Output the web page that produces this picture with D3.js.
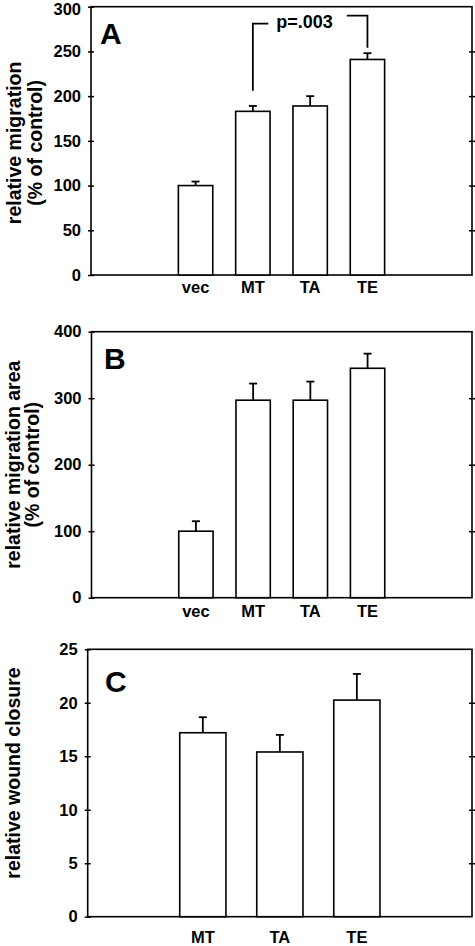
<!DOCTYPE html>
<html><head><meta charset="utf-8">
<script src="https://cdn.jsdelivr.net/npm/d3@7"></script>
<style>html,body{margin:0;padding:0;background:#fff;}svg{display:block;font-family:"Liberation Sans",Arial,sans-serif;font-weight:bold;}</style>
</head><body><svg id="c" width="475" height="946"></svg>
<script>
// ---- data ----
const catsAB = ["vec", "MT", "TA", "TE"];
const migrationA = [100, 183, 189, 241];
const migrationErrA = [4.5, 6, 11, 7];
const ticksA = [0, 50, 100, 150, 200, 250, 300];
const areaB = [100, 297, 297, 345];
const areaErrB = [15, 25, 28, 22];
const ticksB = [0, 100, 200, 300, 400];
const catsC = ["MT", "TA", "TE"];
const woundC = [17.2, 15.4, 20.25];
const woundErrC = [1.45, 1.6, 2.45];
const ticksC = [0, 5, 10, 15, 20, 25];
const pText = "p=.003";
// bracket: left arm at MT (bottom, top), right arm at TE (top, bottom) in data units
const bracketLeft = { cat: "MT", y0: 206, y1: 281 };
const bracketRight = { cat: "TE", y0: 290, y1: 254 };
const bracketTextY = 276.5;

const panels = [
  { letter: "A", cats: catsAB, vals: migrationA, errs: migrationErrA, ticks: ticksA, max: 300,
    label: ["relative migration", "(% of control)"], labelX: [20.5, 42], labelDy: 2,
    left: 91, right: 472, top: 6.7, bottom: 275, pad: 1.825, catDy: 17.7, letterX: 100, letterY: 43.5, bracket: true },
  { letter: "B", cats: catsAB, vals: areaB, errs: areaErrB, ticks: ticksB, max: 400,
    label: ["relative migration area", "(% of control)"], labelX: [19.5, 38.5], labelDy: 0,
    left: 91.5, right: 472, top: 331.7, bottom: 597.7, pad: 1.825, catDy: 19, letterX: 104, letterY: 368.5 },
  { letter: "C", cats: catsC, vals: woundC, errs: woundErrC, ticks: ticksC, max: 25,
    label: ["relative wound closure"], labelX: [19.5], labelDy: -10,
    left: 87.7, right: 472, top: 649.3, bottom: 916.7, pad: 1.495, catDy: 26.3, letterX: 105, letterY: 691.5 }
];

const svg = d3.select("#c");
panels.forEach(p => {
  const g = svg.append("g");
  const x = d3.scalePoint().domain(p.cats).range([p.left, p.right]).padding(p.pad);
  const y = d3.scaleLinear().domain([0, p.max]).range([p.bottom, p.top]);
  const bw = x.step() * 0.6;

  // frame
  g.append("rect").attr("x", p.left).attr("y", p.top)
    .attr("width", p.right - p.left).attr("height", p.bottom - p.top)
    .attr("fill", "none").attr("stroke", "#000").attr("stroke-width", 1.6);

  // left axis
  const ax = g.append("g").attr("transform", `translate(${p.left},0)`)
    .call(d3.axisLeft(y).tickValues(p.ticks).tickSize(3).tickPadding(6));
  ax.select(".domain").remove();
  ax.selectAll(".tick line").attr("x1", 3).attr("stroke", "#000").attr("stroke-width", 1.5);
  ax.selectAll(".tick text").attr("font-size", 16.5).attr("font-family", "Liberation Sans, Arial, sans-serif")
    .attr("font-weight", "bold").attr("fill", "#000").attr("dx", -1)
    .attr("dy", d => y(d) < 12 ? "0.45em" : "0.32em");
  // right axis ticks
  const ar = g.append("g").attr("transform", `translate(${p.right},0)`)
    .call(d3.axisRight(y).tickValues(p.ticks.filter(t => t > 0 && t < p.max)).tickSize(3).tickFormat(""));
  ar.select(".domain").remove();
  ar.selectAll(".tick line").attr("x1", -3).attr("stroke", "#000").attr("stroke-width", 1.5);

  // bars
  g.selectAll(".bar").data(p.cats).enter().append("rect")
    .attr("x", d => x(d) - bw / 2).attr("width", bw)
    .attr("y", (d, i) => y(p.vals[i])).attr("height", (d, i) => p.bottom - y(p.vals[i]))
    .attr("fill", "#fff").attr("stroke", "#000").attr("stroke-width", 1.6);
  // error bars (upper only)
  g.selectAll(".eb").data(p.cats).enter().append("line")
    .attr("x1", d => x(d)).attr("x2", d => x(d))
    .attr("y1", (d, i) => y(p.vals[i])).attr("y2", (d, i) => y(p.vals[i] + p.errs[i]))
    .attr("stroke", "#000").attr("stroke-width", 1.8);
  g.selectAll(".cap").data(p.cats).enter().append("line")
    .attr("x1", d => x(d) - 4).attr("x2", d => x(d) + 4)
    .attr("y1", (d, i) => y(p.vals[i] + p.errs[i])).attr("y2", (d, i) => y(p.vals[i] + p.errs[i]))
    .attr("stroke", "#000").attr("stroke-width", 1.8);

  // category labels
  g.selectAll(".cat").data(p.cats).enter().append("text")
    .attr("x", d => x(d)).attr("y", p.bottom + p.catDy)
    .attr("text-anchor", "middle").attr("font-size", 16.5).text(d => d);

  // y label
  const cy = (p.top + p.bottom) / 2 + p.labelDy;
  p.label.forEach((t, i) => {
    g.append("text").attr("transform", `translate(${p.labelX[i]},${cy}) rotate(-90)`)
      .attr("text-anchor", "middle").attr("font-size", 19.5).text(t);
  });

  // panel letter
  g.append("text").attr("x", p.letterX).attr("y", p.letterY).attr("font-size", 30).text(p.letter);

  if (p.bracket) {
    const s = x.step();
    const xl = x(bracketLeft.cat), xr = x(bracketRight.cat);
    const path = (pts) => d3.line()(pts);
    g.append("path").attr("d", path([[xl, y(bracketLeft.y0)], [xl, y(bracketLeft.y1)], [xl + s * 0.27, y(bracketLeft.y1)]]))
      .attr("fill", "none").attr("stroke", "#000").attr("stroke-width", 1.8);
    g.append("path").attr("d", path([[xr - s * 0.36, y(bracketRight.y0)], [xr, y(bracketRight.y0)], [xr, y(bracketRight.y1)]]))
      .attr("fill", "none").attr("stroke", "#000").attr("stroke-width", 1.8);
    g.append("text").attr("x", xl + s * 0.41).attr("y", y(bracketTextY)).attr("font-size", 18).text(pText);
  }
});
</script></body></html>
